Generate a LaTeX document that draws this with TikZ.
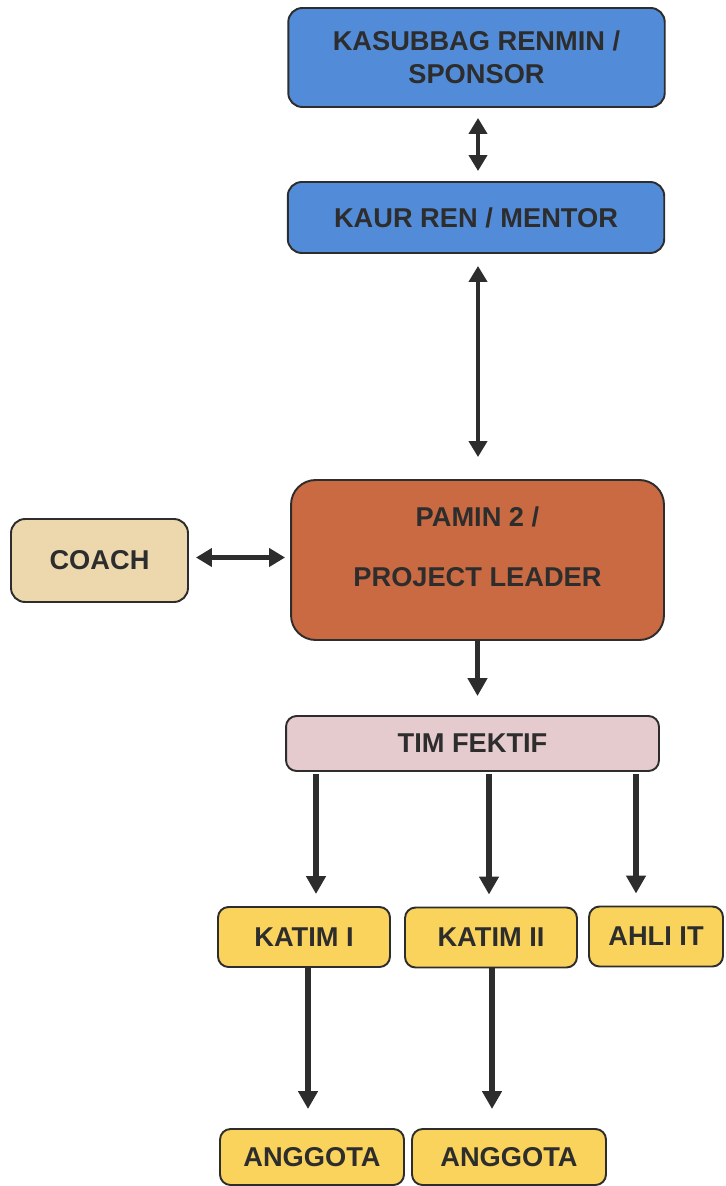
\documentclass[tikz,border=0pt]{standalone}
\usepackage{fontspec}
\setmainfont{Liberation Sans}
\usepackage{xcolor}
\usetikzlibrary{arrows.meta}
\definecolor{renblue}{RGB}{82,140,216}
\definecolor{leadbrown}{RGB}{201,106,66}
\definecolor{coachtan}{RGB}{236,216,172}
\definecolor{timpink}{RGB}{229,202,206}
\definecolor{katyellow}{RGB}{249,211,92}
\definecolor{ink}{RGB}{45,45,45}
\tikzset{
  box/.style={ % rounded box of the chart
    draw=ink, line width=1.1pt, rounded corners=8pt,
    align=center, text=ink, inner sep=2pt,
    font=\fontsize{15.5}{19}\selectfont\bfseries
  },
  renbox/.style={ % blue boxes at the top
    box, fill=renblue, minimum width=7.53cm
  },
  leadbox/.style={
    box, fill=leadbrown, rounded corners=14pt,
    minimum width=7.46cm, minimum height=3.2cm
  },
  katbox/.style={ % yellow boxes of the team
    box, fill=katyellow, rounded corners=6pt,
    minimum height=1.2cm
  },
  conn/.style={
    draw=ink, line width=3pt,
    -{Triangle[length=0.36cm,width=0.38cm]}
  },
  dconn/.style={
    draw=ink, line width=2.8pt,
    {Triangle[length=0.32cm,width=0.36cm]}-{Triangle[length=0.32cm,width=0.36cm]}
  }
}
\begin{document}
\begin{tikzpicture}[x=0.02cm, y=-0.02cm]
  \useasboundingbox (0,0) rectangle (726,1186);

  \node[renbox, minimum height=1.98cm] (sponsor) at (476.5,57.5)
    {KASUBBAG RENMIN /\\SPONSOR};
  \node[renbox, minimum height=1.42cm] (mentor) at (476,217.5)
    {KAUR REN / MENTOR};
  \node[leadbox] (leader) at (477.5,560)
    {PAMIN 2 /\\[15pt]\raisebox{0pt}[\height][\dimexpr\depth+15pt\relax]{PROJECT LEADER}};
  \node[box, fill=coachtan, minimum width=3.54cm, minimum height=1.66cm] (coach)
    at (99.5,560.5) {COACH};
  \node[box, fill=timpink, rounded corners=6pt, minimum width=7.46cm,
    minimum height=1.1cm] (tim) at (472.5,743.5) {TIM FEKTIF};
  \node[katbox, minimum width=3.44cm] (katim1) at (304,937) {KATIM I};
  \node[katbox, minimum width=3.44cm] (katim2) at (491,937.5) {KATIM II};
  \node[katbox, minimum width=2.68cm] (ahli) at (656,936.5) {AHLI IT};
  \node[katbox, minimum width=3.68cm, minimum height=1.12cm] (anggota1)
    at (312,1157) {ANGGOTA};
  \node[katbox, minimum width=3.88cm, minimum height=1.12cm] (anggota2)
    at (509,1157) {ANGGOTA};

  % connectors
  \draw[dconn, shorten <=0.2cm, shorten >=0.2cm]
    ([xshift=0.03cm]sponsor.south) -- ([xshift=0.03cm]sponsor.south |- mentor.north);
  \draw[dconn, shorten <=0.24cm, shorten >=0.44cm]
    ([xshift=0.04cm]mentor.south) -- ([xshift=0.04cm]mentor.south |- leader.north);
  \draw[dconn, shorten <=0.14cm, shorten >=0.1cm]
    ([yshift=0.06cm]coach.east) -- ([yshift=0.06cm]coach.east -| leader.west);
  \draw[conn, shorten >=0.38cm] (leader.south) -- (leader.south |- tim.north);
  \draw[conn, shorten <=0.04cm, shorten >=0.24cm]
    ([xshift=0.24cm]tim.south -| katim1.north) -- ([xshift=0.24cm]katim1.north);
  \draw[conn, shorten <=0.04cm, shorten >=0.24cm]
    ([xshift=-0.04cm]tim.south -| katim2.north) -- ([xshift=-0.04cm]katim2.north);
  \draw[conn, shorten <=0.04cm, shorten >=0.24cm]
    ([xshift=-0.4cm]tim.south -| ahli.north) -- ([xshift=-0.4cm]ahli.north);
  \draw[conn, shorten >=0.38cm]
    ([xshift=0.08cm]katim1.south) -- ([xshift=0.08cm]katim1.south |- anggota1.north);
  \draw[conn, shorten >=0.38cm]
    ([xshift=0.02cm]katim2.south) -- ([xshift=0.02cm]katim2.south |- anggota2.north);
\end{tikzpicture}
\end{document}
